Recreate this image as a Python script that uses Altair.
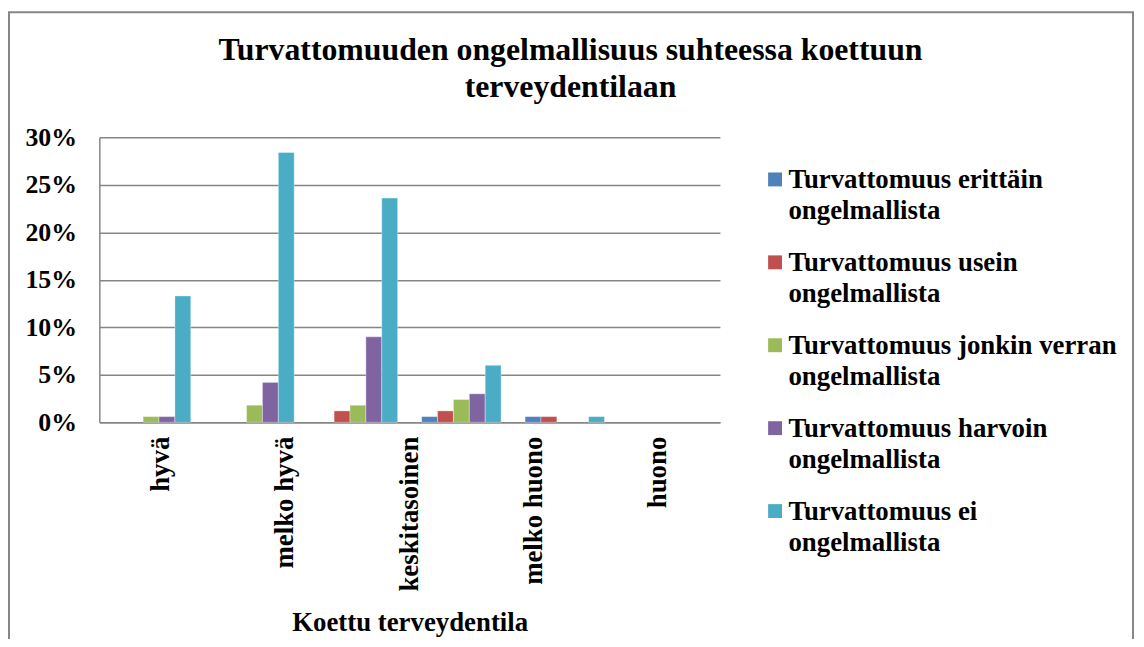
import altair as alt
import pandas as pd

# ---- data (percent) ----
categories = ["hyvä", "melko hyvä", "keskitasoinen", "melko huono", "huono"]
series = [
    "Turvattomuus erittäin ongelmallista",
    "Turvattomuus usein ongelmallista",
    "Turvattomuus jonkin verran ongelmallista",
    "Turvattomuus harvoin ongelmallista",
    "Turvattomuus ei ongelmallista",
]
colors = ["#4F81BD", "#C0504D", "#9BBB59", "#8064A2", "#4BACC6"]
erittain = [0.0, 0.0, 0.0, 0.6, 0.6]
usein = [0.0, 0.0, 1.2, 1.2, 0.6]
jonkin = [0.6, 1.8, 1.8, 2.4, 0.0]
harvoin = [0.6, 4.2, 9.0, 3.0, 0.0]
ei = [13.3, 28.4, 23.6, 6.0, 0.6]
y_ticks = [0, 5, 10, 15, 20, 25, 30]

title_lines = ["Turvattomuuden ongelmallisuus suhteessa koettuun", "terveydentilaan"]
x_title = "Koettu terveydentila"

FONT = "Liberation Serif"
GRID = "#868686"

rows = []
for s, vals in zip(series, [erittain, usein, jonkin, harvoin, ei]):
    for c, v in zip(categories, vals):
        if v > 0:
            rows.append({"kategoria": c, "sarja": s, "osuus": v / 100.0})
df = pd.DataFrame(rows)

# Excel placed the bar groups on six slots (last one empty)
slots = categories + [" "]

frame = alt.Chart(pd.DataFrame({"k": [0]})).mark_rect(
    fill="white", fillOpacity=0, stroke=GRID, strokeWidth=2
).encode(x=alt.value(-91), x2=alt.value(1041), y=alt.value(-126), y2=alt.value(700))

bars = alt.Chart(df).mark_bar(stroke="white", strokeWidth=0.6, strokeOpacity=0.6).encode(
    x=alt.X("kategoria:N", sort=slots,
            scale=alt.Scale(domain=slots, paddingInner=0, paddingOuter=0), axis=None),
    xOffset=alt.XOffset("sarja:N", sort=series,
                        scale=alt.Scale(domain=series, paddingInner=0, paddingOuter=0.756)),
    y=alt.Y("osuus:Q",
            scale=alt.Scale(domain=[0, 0.30], nice=False),
            axis=alt.Axis(values=[v / 100 for v in y_ticks], format=".0%", title=None,
                          grid=True, gridColor=GRID, gridWidth=1.5,
                          domainColor=GRID, domainWidth=1.5, ticks=False,
                          labelFont=FONT, labelFontSize=26, labelFontWeight="bold",
                          labelColor="black", labelPadding=23)),
    color=alt.Color("sarja:N", sort=series,
                    scale=alt.Scale(domain=series, range=colors),
                    legend=alt.Legend(
                        title=None, orient="none", legendX=667, legendY=17, padding=0,
                        symbolType="M-1,0.7H1V2.7H-1Z", symbolSize=196, symbolStrokeWidth=0,
                        labelFont=FONT, labelFontSize=27, labelFontWeight="bold",
                        labelColor="black", labelLimit=450, labelBaseline="top",
                        labelOffset=0, rowPadding=12.5,
                        labelExpr="[slice(datum.label, 0, lastindexof(datum.label, ' ')), "
                                  "slice(datum.label, lastindexof(datum.label, ' ') + 1)]")),
)

axis_layer = alt.Chart(pd.DataFrame({"kategoria": categories})).mark_point(opacity=0).encode(
    x=alt.X("kategoria:N", sort=categories,
            scale=alt.Scale(type="band", domain=categories, paddingInner=0, paddingOuter=0),
            axis=alt.Axis(title=x_title, labelAngle=-90, labelAlign="right", labelBaseline="middle",
                          labelFont=FONT, labelFontSize=27, labelFontWeight="bold",
                          labelColor="black", labelPadding=14, ticks=False,
                          domainColor=GRID, domainWidth=1.5,
                          titleFont=FONT, titleFontSize=27, titleFontWeight="bold",
                          titleColor="black", titleY=210, titleBaseline="alphabetic")),
    y=alt.value(0),
)

chart = alt.layer(frame, bars, axis_layer).resolve_scale(x="independent").properties(
    width=625, height=287,
    autosize=alt.AutoSizeParams(type="none"),
    padding={"left": 92, "top": 128, "right": 419, "bottom": 216},
    background="white",
    title=alt.TitleParams(text=title_lines, font=FONT, fontSize=32, fontWeight="bold",
                          color="black", anchor="middle", frame="group", dx=162, offset=-93,
                          lineHeight=37),
).configure(style={"guide-label": {"lineHeight": 31}}).configure_view(strokeWidth=0)

chart.save("out.html", embed_options={"renderer": "svg", "actions": False})
